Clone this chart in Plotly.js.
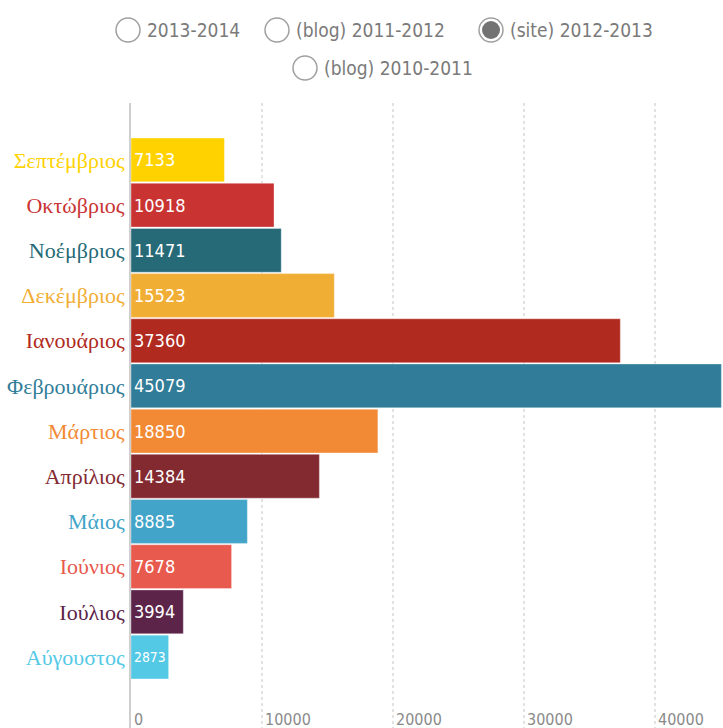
<!DOCTYPE html>
<html>
<head>
<meta charset="utf-8">
<script src="https://cdn.plot.ly/plotly-3.0.1.min.js"></script>
<style>html,body{margin:0;padding:0;background:#fff;}#chart{width:723px;height:728px;}</style>
</head>
<body>
<div id="chart"></div>
<script>
// ---- data ----
const months = ["Σεπτέμβριος","Οκτώβριος","Νοέμβριος","Δεκέμβριος","Ιανουάριος","Φεβρουάριος","Μάρτιος","Απρίλιος","Μάιος","Ιούνιος","Ιούλιος","Αύγουστος"];
const visits = [7133, 10918, 11471, 15523, 37360, 45079, 18850, 14384, 8885, 7678, 3994, 2873];
const barColors = ["#FFD200","#C93433","#266A78","#F1AE35","#B02A20","#317D99","#F28A35","#832A31","#41A4C8","#E8594E","#5C2449","#53C9E6"];
const seriesNames = ["2013-2014","(blog) 2011-2012","(site) 2012-2013","(blog) 2010-2011"];
const selectedSeries = "(site) 2012-2013";
const xTicks = [0, 10000, 20000, 30000, 40000];

// ---- layout helpers (pixel positions of the radio legend) ----
const W = 723, H = 728, L = 131, T = 103;
const plotW = W - L, plotH = H - T;
const px = x => (x - L) / plotW;
const py = y => (H - y) / plotH;
const radioPos = [[128,30],[277,30],[491,30],[305,68]];
const narrow = "DejaVu Sans Condensed, Liberation Sans Narrow, sans-serif";

const trace = {
  type: "bar",
  orientation: "h",
  y: months,
  x: visits,
  text: visits.map(String),
  textposition: "inside",
  insidetextanchor: "start",
  textangle: 0,
  textfont: {family: narrow, size: 18, color: "#ffffff"},
  marker: {color: barColors, line: {color: "rgba(255,255,255,0.35)", width: 1}},
  hoverinfo: "none",
  cliponaxis: false
};

const shapes = [];
const annotations = [];
seriesNames.forEach((name, i) => {
  const [cx, cy] = radioPos[i];
  shapes.push({type: "circle", xref: "paper", yref: "paper", xsizemode: "pixel", ysizemode: "pixel",
    xanchor: px(cx), yanchor: py(cy), x0: -12, x1: 12, y0: -12, y1: 12,
    line: {color: "#a0a0a0", width: 1.5}, fillcolor: "#ffffff"});
  if (name === selectedSeries) {
    shapes.push({type: "circle", xref: "paper", yref: "paper", xsizemode: "pixel", ysizemode: "pixel",
      xanchor: px(cx), yanchor: py(cy), x0: -9, x1: 9, y0: -9, y1: 9,
      line: {width: 0}, fillcolor: "#737373"});
  }
  annotations.push({xref: "paper", yref: "paper", x: px(cx + 17), y: py(cy), xanchor: "left", yanchor: "middle",
    text: name, showarrow: false,
    font: {family: narrow, size: 19, color: "#7a7a7a"}});
});
xTicks.forEach(v => {
  annotations.push({xref: "x", yref: "paper", x: v, y: 0, xanchor: "left", yanchor: "bottom",
    xshift: 1, yshift: -3, text: String(v), showarrow: false,
    font: {family: narrow, size: 16, color: "#8a8a8a"}});
});

const layout = {
  width: W, height: H,
  margin: {l: L, r: 0, t: T, b: 0, pad: 0},
  paper_bgcolor: "#ffffff", plot_bgcolor: "#ffffff",
  showlegend: false,
  bargap: 0.03,
  xaxis: {
    range: [0, 45200],
    tickvals: xTicks,
    showticklabels: false,
    ticks: "",
    showgrid: true, gridcolor: "#e2e2e2", gridwidth: 2, griddash: "dot",
    zeroline: false, showline: false, fixedrange: true
  },
  yaxis: {
    type: "category",
    range: [12.57, -1.26],
    tickvals: months,
    ticktext: months.map((m, i) => `<span style="color:${barColors[i]}">${m}</span>`),
    ticks: "",
    ticklabelstandoff: 0,
    tickfont: {family: "Liberation Serif, Times New Roman, serif", size: 22},
    showgrid: false, zeroline: false,
    showline: true, linecolor: "#cfcfcf", linewidth: 2, fixedrange: true
  },
  shapes: shapes,
  annotations: annotations
};

Plotly.newPlot("chart", [trace], layout, {displayModeBar: false, staticPlot: true});
</script>
</body>
</html>
